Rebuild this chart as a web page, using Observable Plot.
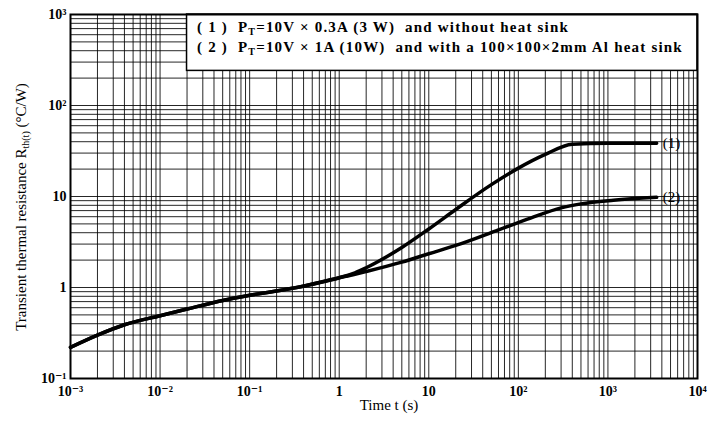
<!DOCTYPE html>
<html>
<head>
<meta charset="utf-8">
<script src="https://cdn.jsdelivr.net/npm/d3@7"></script>
<script src="https://cdn.jsdelivr.net/npm/@observablehq/plot@0.6"></script>
<style>
  html, body { margin: 0; padding: 0; background: #fff; }
  #chart svg { display: block; }
</style>
</head>
<body>
<div id="chart"></div>
<script>
// Data
const curve1T = [0.001, 0.002, 0.004, 0.01, 0.02, 0.05, 0.1, 0.3, 1, 1.5, 2, 5, 10, 20, 50, 100, 200, 400, 1000, 3500];
const curve1R = [0.22, 0.30, 0.39, 0.49, 0.58, 0.72, 0.82, 0.98, 1.28, 1.45, 1.65, 2.75, 4.4, 7.2, 13.5, 20.5, 29, 37.5, 38.5, 38.5];
const curve2T = [0.001, 0.002, 0.004, 0.01, 0.02, 0.05, 0.1, 0.3, 1, 1.5, 2, 5, 10, 20, 60, 137, 300, 500, 1150, 3500];
const curve2R = [0.22, 0.30, 0.39, 0.49, 0.58, 0.72, 0.82, 0.98, 1.28, 1.4, 1.5, 1.9, 2.35, 2.9, 4.3, 5.8, 7.5, 8.3, 9.1, 9.8];
const curveLabels = ["(1)", "(2)"];
const xDecades = [1e-3, 1e-2, 1e-1, 1, 10, 1e2, 1e3, 1e4];
const yDecades = [1e-1, 1, 10, 1e2, 1e3];
const xTickLabels = ["10⁻³", "10⁻²", "10⁻¹", "1", "10", "10²", "10³", "10⁴"];
const yTickLabels = ["10⁻¹", "1", "10", "10²", "10³"];
const legendLines = [
  ["( 1 )  P", "T", "=10V × 0.3A (3 W)  and without heat sink"],
  ["( 2 )  P", "T", "=10V × 1A (10W)  and with a 100×100×2mm Al heat sink"]
];
const legendBox = {x1: 0.02, x2: 1e4, y1: 240, y2: 1000};

const toRows = (T, R, id) => T.map((t, i) => ({t, r: R[i], id}));
const rows1 = toRows(curve1T, curve1R, 0);
const rows2 = toRows(curve2T, curve2R, 1);
const ends = [rows1[rows1.length - 1], rows2[rows2.length - 1]];

const minorX = xDecades.slice(0, -1).flatMap(d => d3.range(1, 10).map(k => d * k)).concat([1e4]);
const minorY = yDecades.slice(0, -1).flatMap(d => d3.range(1, 10).map(k => d * k)).concat([1e3]);

const serif = "'Liberation Serif', 'DejaVu Serif', serif";
const mL = 70, mR = 27, mT = 14, mB = 47, W = 724, H = 425;

const plot = Plot.plot({
  width: W, height: H,
  marginLeft: mL, marginRight: mR, marginTop: mT, marginBottom: mB,
  style: {fontFamily: serif, background: "#fff", color: "#000"},
  x: {type: "log", domain: [1e-3, 1e4]},
  y: {type: "log", domain: [1e-1, 1e3]},
  marks: [
    Plot.ruleX(minorX, {stroke: "#000", strokeWidth: 1, strokeOpacity: 0.85}),
    Plot.ruleY(minorY, {stroke: "#000", strokeWidth: 1, strokeOpacity: 0.85}),
    Plot.rect([legendBox], {x1: "x1", x2: "x2", y1: "y1", y2: "y2", fill: "#fff", stroke: "#000", strokeWidth: 1.5}),
    Plot.line(rows1, {x: "t", y: "r", stroke: "#000", strokeWidth: 3.5, curve: "monotone-x"}),
    Plot.line(rows2, {x: "t", y: "r", stroke: "#000", strokeWidth: 3.5, curve: "monotone-x"}),
    Plot.text(ends, {x: "t", y: "r", text: d => curveLabels[d.id], textAnchor: "start", dx: 6, fontSize: 15, fill: "#000"}),
    Plot.frame({stroke: "#000", strokeWidth: 2}),
    Plot.axisX(xDecades, {tickSize: 0, tickPadding: 8, fontSize: 14, fontWeight: "bold",
      tickFormat: d => xTickLabels[xDecades.indexOf(d)], label: null}),
    Plot.axisY(yDecades, {tickSize: 0, tickPadding: 4, fontSize: 14, fontWeight: "bold",
      tickFormat: d => yTickLabels[yDecades.indexOf(d)], label: null})
  ]
});

const svg = d3.select(plot);
// Legend text inside the box
legendLines.forEach((parts, i) => {
  const t = svg.append("text")
    .attr("x", 197).attr("y", 32 + i * 20)
    .attr("text-anchor", "start")
    .attr("letter-spacing", 1.2)
    .attr("font-family", serif).attr("font-size", 15).attr("font-weight", "bold").attr("fill", "#000");
  t.append("tspan").text(parts[0]);
  t.append("tspan").attr("font-size", 10).attr("dy", 3).text(parts[1]);
  t.append("tspan").attr("dy", -3).text(parts[2]);
});
// Axis titles
svg.append("text")
  .attr("x", 389).attr("y", 410)
  .attr("text-anchor", "middle")
  .attr("font-family", serif).attr("font-size", 15).attr("fill", "#000")
  .text("Time t (s)");
const yl = svg.append("text")
  .attr("transform", "translate(26,207) rotate(-90)")
  .attr("text-anchor", "middle")
  .attr("font-family", serif).attr("font-size", 15).attr("fill", "#000");
yl.append("tspan").text("Transient thermal resistance R");
yl.append("tspan").attr("font-size", 10).attr("dy", 3).text("th(t)");
yl.append("tspan").attr("dy", -3).text(" (°C/W)");

document.getElementById("chart").appendChild(plot);
</script>
</body>
</html>
